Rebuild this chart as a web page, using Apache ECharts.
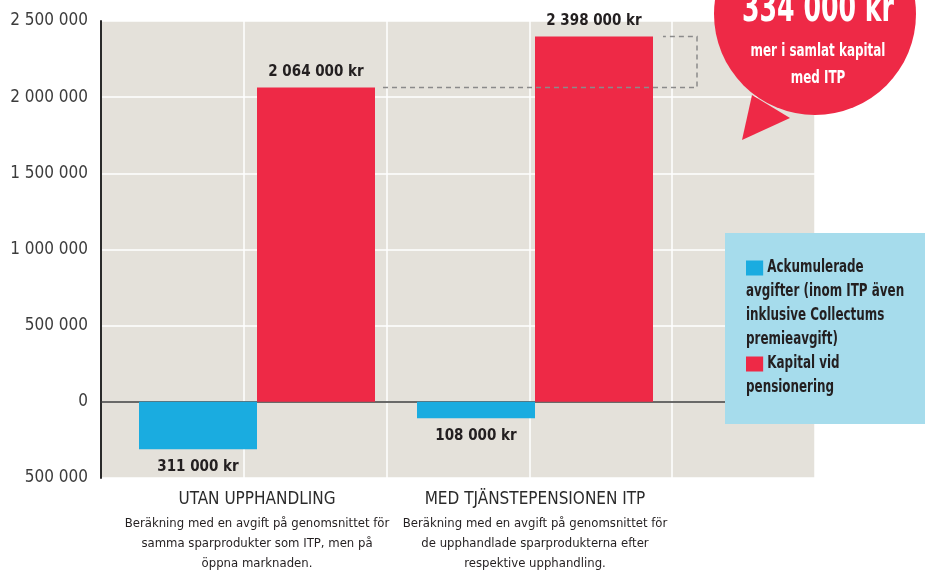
<!DOCTYPE html>
<html>
<head>
<meta charset="utf-8">
<script src="https://cdn.jsdelivr.net/npm/echarts@6/dist/echarts.min.js"></script>
<style>
  html, body { margin: 0; padding: 0; background: #fff; }
  #chart { width: 925px; height: 573px; }
</style>
</head>
<body>
<div id="chart"></div>
<script>
// Data
const categories = ['UTAN UPPHANDLING', 'MED TJÄNSTEPENSIONEN ITP'];
const descriptions = [
    ['Beräkning med en avgift på genomsnittet för', 'samma sparprodukter som ITP, men på', 'öppna marknaden.'],
    ['Beräkning med en avgift på genomsnittet för', 'de upphandlade sparprodukterna efter', 'respektive upphandling.']
];
const avgifter = [-311000, -108000];
const kapital = [2064000, 2398000];
const seriesNames = ['Ackumulerade avgifter', 'Kapital vid pensionering'];
const legendLines = ['Ackumulerade', 'avgifter (inom ITP även', 'inklusive Collectums', 'premieavgift)', 'Kapital vid', 'pensionering'];
const yMin = -500000;
const yMax = 2500000;
const yStep = 500000;
const calloutValue = '334 000 kr';
const calloutLines = ['mer i samlat kapital', 'med ITP'];

const BLUE = '#1aace0';
const RED = '#ee2946';
const NARROW = "'Liberation Sans Narrow', 'DejaVu Sans Condensed', sans-serif";

// 2064000 -> "2 064 000"
function fmt(v) {
    return Math.abs(v).toString().replace(/\B(?=(\d{3})+(?!\d))/g, ' ');
}

const chart = echarts.init(document.getElementById('chart'));

const barLabel = {
    show: true,
    fontFamily: NARROW,
    fontWeight: 'bold',
    fontSize: 15,
    color: '#231f20',
    formatter: p => fmt(p.value) + ' kr'
};

const option = {
    animation: false,
    grid: [
        { left: 101, right: 110, top: 21, bottom: 95, show: true, backgroundColor: '#e4e1da', borderWidth: 0, outerBoundsMode: 'none' },
        { left: 118, width: 556, top: 21, bottom: 95, outerBoundsMode: 'none' }
    ],
    xAxis: [
        {
            type: 'value', gridIndex: 0, min: 0, max: 5, interval: 1,
            axisLabel: { show: false }, axisTick: { show: false },
            axisLine: { show: true, onZero: true, lineStyle: { color: '#3a3a3a', width: 1.5 } },
            splitLine: { show: true, lineStyle: { color: '#ffffff', width: 1.5 } }
        },
        {
            type: 'category', gridIndex: 1, data: categories,
            axisLine: { show: false }, axisTick: { show: false },
            axisLabel: {
                margin: 7,
                interval: 0,
                formatter: (v, i) => '{t|' + v + '}\n' + descriptions[i].map(d => '{d|' + d + '}').join('\n'),
                rich: {
                    t: { fontFamily: NARROW, fontSize: 17, color: '#2b2b2b', lineHeight: 29 },
                    d: { fontFamily: NARROW, fontSize: 13, color: '#231f20', lineHeight: 20 }
                }
            }
        }
    ],
    yAxis: [
        {
            type: 'value', gridIndex: 0, min: yMin, max: yMax, interval: yStep,
            axisLine: { show: true, onZero: false, lineStyle: { color: '#2a2a2a', width: 2 } },
            axisTick: { show: false },
            axisLabel: { margin: 13, fontFamily: NARROW, fontSize: 17, color: '#3c3c3c', formatter: v => fmt(v) },
            splitLine: { show: true, lineStyle: { color: '#ffffff', width: 1.5 } }
        },
        {
            type: 'value', gridIndex: 1, min: yMin, max: yMax, interval: yStep,
            show: false, splitLine: { show: false }
        }
    ],
    series: [
        {
            name: seriesNames[0], type: 'bar', xAxisIndex: 1, yAxisIndex: 1,
            data: avgifter, barWidth: 118, barGap: '0%',
            itemStyle: { color: BLUE },
            label: { ...barLabel, position: 'bottom', distance: 10 }
        },
        {
            name: seriesNames[1], type: 'bar', xAxisIndex: 1, yAxisIndex: 1,
            data: kapital, barWidth: 118, barGap: '0%',
            itemStyle: { color: RED },
            label: { ...barLabel, position: 'top', distance: 8 }
        }
    ],
    graphic: [
        // legend box
        {
            type: 'rect', left: 725, top: 233, z: 10,
            shape: { width: 200, height: 191 },
            style: { fill: '#a6dcec' }
        },
        {
            type: 'text', x: 746, y: 256, z: 11, scaleX: 0.78,
            style: {
                text: '{b|} ' + legendLines.slice(0, 4).join('\n') + '\n{r|} ' + legendLines.slice(4).join('\n'),
                font: 'bold 17px ' + NARROW,
                fill: '#231f20',
                lineHeight: 24,
                rich: {
                    b: { backgroundColor: BLUE, width: 22, height: 15 },
                    r: { backgroundColor: RED, width: 22, height: 15 }
                }
            }
        },
        // callout bubble
        {
            type: 'circle', z: 20,
            shape: { cx: 815, cy: 14, r: 101 },
            style: { fill: RED }
        },
        {
            type: 'polygon', z: 20,
            shape: { points: [[742, 140], [752, 95], [790, 118]] },
            style: { fill: RED }
        },
        {
            type: 'text', z: 21, x: 818, y: 11, scaleX: 0.7,
            style: {
                text: calloutValue, font: 'bold 40px ' + NARROW, fill: '#fff',
                align: 'center', verticalAlign: 'middle'
            }
        },
        {
            type: 'text', z: 21, x: 818, y: 38, scaleX: 0.78,
            style: {
                text: calloutLines.join('\n'), font: 'bold 17px ' + NARROW, fill: '#fff',
                align: 'center', lineHeight: 27
            }
        }
    ]
};

chart.setOption(option);

// dashed bracket linking the two red bar tops
const redLeft = chart.convertToPixel({ xAxisIndex: 1 }, categories[0]) + 118;
const redRight = chart.convertToPixel({ xAxisIndex: 1 }, categories[1]) + 118;
const y1 = chart.convertToPixel({ yAxisIndex: 1 }, kapital[0]);
const y2 = chart.convertToPixel({ yAxisIndex: 1 }, kapital[1]);
chart.setOption({
    graphic: option.graphic.concat([{
        type: 'polyline', z: 5,
        shape: { points: [[redLeft + 8, y1], [redRight + 44, y1], [redRight + 44, y2], [redRight + 10, y2]] },
        style: { stroke: '#8a8a8a', lineWidth: 1.5, lineDash: [5, 4], fill: null }
    }])
});

window.addEventListener('resize', () => chart.resize());
</script>
</body>
</html>
